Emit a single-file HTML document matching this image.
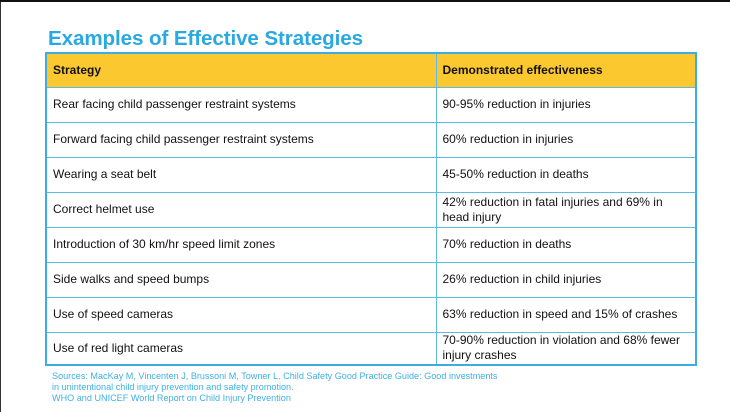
<!DOCTYPE html>
<html><head><meta charset="utf-8"><style>
html,body{margin:0;padding:0;}
body{width:730px;height:410px;background:#fff;position:relative;overflow:hidden;font-family:"Liberation Sans",Arial,sans-serif;border-top:2px solid #111;box-sizing:border-box;}
.lb{position:absolute;left:0;top:0;width:1px;height:410px;background:#333;}
h1{position:absolute;left:48px;top:25px;margin:0;font-size:20.6px;font-weight:bold;color:#2aa8e0;letter-spacing:-0.1px;}
table{position:absolute;left:45px;top:50px;width:652px;border-collapse:collapse;border:2px solid #3aaee2;font-size:12px;color:#111;}
td,th{border:1px solid #5bbbe6;text-align:left;padding:0 6px;height:35px;vertical-align:middle;line-height:15px;box-sizing:border-box;}
th{background:#fbc82f;font-weight:bold;height:34px;}
td:first-child,th:first-child{width:390px;}
.src{position:absolute;left:52px;top:369px;font-size:9.1px;color:#3fb0e2;line-height:11px;}
</style></head><body>
<div class="lb"></div>
<h1>Examples of Effective Strategies</h1>
<table>
<tr><th>Strategy</th><th>Demonstrated effectiveness</th></tr>
<tr><td>Rear facing child passenger restraint systems</td><td>90-95% reduction in injuries</td></tr>
<tr><td>Forward facing child passenger restraint systems</td><td>60% reduction in injuries</td></tr>
<tr><td>Wearing a seat belt</td><td>45-50% reduction in deaths</td></tr>
<tr><td>Correct helmet use</td><td>42% reduction in fatal injuries and 69% in head injury</td></tr>
<tr><td>Introduction of 30 km/hr speed limit zones</td><td>70% reduction in deaths</td></tr>
<tr><td>Side walks and speed bumps</td><td>26% reduction in child injuries</td></tr>
<tr><td>Use of speed cameras</td><td>63% reduction in speed and 15% of crashes</td></tr>
<tr><td style="height:33px">Use of red light cameras</td><td style="height:33px">70-90% reduction in violation and 68% fewer injury crashes</td></tr>
</table>
<div class="src">Sources: MacKay M, Vincenten J, Brussoni M, Towner L. Child Safety Good Practice Guide: Good investments<br>in unintentional child injury prevention and safety promotion.<br>WHO and UNICEF World Report on Child Injury Prevention</div>
</body></html>
